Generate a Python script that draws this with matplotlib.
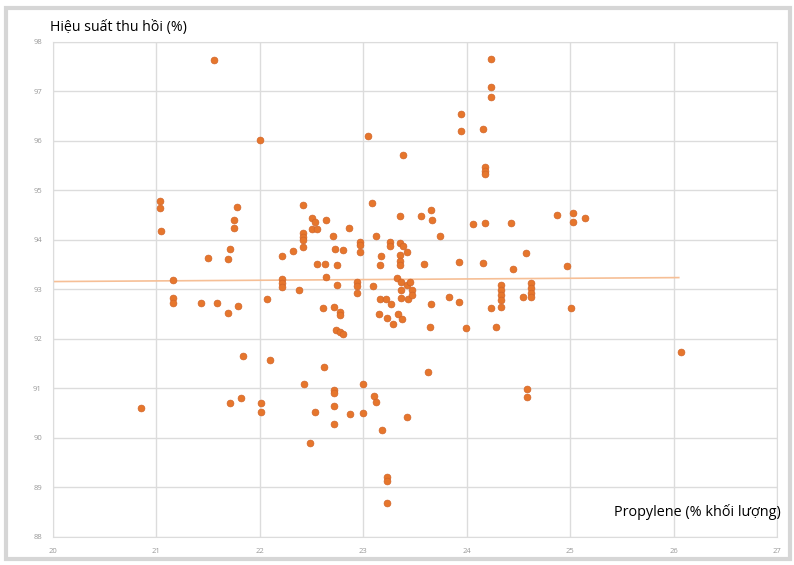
import matplotlib.pyplot as plt
from matplotlib.patches import Rectangle

# ---------------- data ----------------
propylene = [
    20.85, 21.56, 21.03, 21.03, 21.04, 21.16, 21.16, 21.16, 21.43, 21.59,
    21.69, 21.79, 21.50, 21.69, 21.71, 21.75, 21.75, 21.78, 21.84, 21.82,
    21.71, 22.00, 22.01, 22.01, 22.07, 22.10, 22.21, 22.21, 22.21, 22.21,
    22.32, 22.38, 22.42, 22.42, 22.42, 22.42, 22.42, 22.50, 22.53, 22.64,
    22.50, 22.55, 22.86, 22.71, 22.73, 22.80, 22.55, 22.63, 22.75, 22.64,
    22.75, 22.94, 22.94, 22.94, 22.97, 22.97, 22.97, 23.08, 23.05, 23.12,
    23.09, 23.17, 23.16, 23.26, 23.26, 23.35, 23.35, 23.38, 23.42, 23.35,
    23.35, 23.35, 23.33, 23.36, 23.42, 23.16, 23.22, 23.27, 23.36, 23.43,
    22.61, 22.72, 22.77, 22.77, 22.74, 22.77, 22.80, 23.15, 23.23, 23.29,
    23.34, 23.37, 22.43, 22.53, 22.48, 22.62, 22.72, 22.72, 22.72, 22.72,
    22.87, 23.00, 23.00, 23.10, 23.12, 23.18, 23.23, 23.23, 23.23, 23.38,
    23.56, 23.65, 23.66, 23.74, 24.06, 24.18, 24.43, 24.87, 25.03, 25.03,
    25.14, 23.36, 23.45, 23.47, 23.47, 23.59, 23.93, 24.16, 24.57, 24.45,
    24.97, 23.65, 23.83, 23.93, 24.33, 24.33, 24.33, 24.33, 24.33, 24.23,
    24.54, 24.62, 24.62, 24.62, 24.62, 25.01, 23.64, 23.99, 24.28, 26.07,
    23.63, 24.58, 24.58, 23.42, 24.23, 24.23, 24.23, 23.94, 23.94, 24.16,
    24.18, 24.18, 24.18,
]
recovery = [
    90.61, 97.64, 94.79, 94.65, 94.18, 93.19, 92.83, 92.73, 92.73, 92.73,
    92.53, 92.67, 93.64, 93.62, 93.82, 94.40, 94.24, 94.67, 91.66, 90.81,
    90.71, 96.02, 90.71, 90.53, 92.81, 91.58, 93.68, 93.21, 93.13, 93.05,
    93.78, 92.99, 94.71, 94.14, 94.06, 94.00, 93.86, 94.44, 94.36, 94.40,
    94.22, 94.22, 94.24, 94.08, 93.82, 93.80, 93.52, 93.52, 93.50, 93.25,
    93.09, 93.15, 93.07, 92.93, 93.96, 93.90, 93.76, 94.75, 96.10, 94.08,
    93.07, 93.68, 93.50, 93.96, 93.88, 94.49, 93.94, 93.88, 93.76, 93.70,
    93.58, 93.50, 93.23, 93.15, 93.09, 92.81, 92.81, 92.71, 92.83, 92.81,
    92.63, 92.65, 92.55, 92.48, 92.18, 92.14, 92.10, 92.51, 92.42, 92.30,
    92.51, 92.40, 91.09, 90.53, 89.90, 91.43, 90.97, 90.91, 90.65, 90.28,
    90.48, 91.09, 90.51, 90.85, 90.73, 90.16, 89.21, 89.13, 88.69, 95.72,
    94.49, 94.61, 94.40, 94.08, 94.32, 94.34, 94.34, 94.51, 94.55, 94.36,
    94.44, 92.99, 93.15, 92.99, 92.89, 93.52, 93.56, 93.54, 93.74, 93.41,
    93.47, 92.71, 92.85, 92.75, 93.09, 92.99, 92.89, 92.79, 92.65, 92.63,
    92.85, 93.13, 93.03, 92.93, 92.85, 92.63, 92.24, 92.22, 92.24, 91.74,
    91.33, 90.99, 90.83, 90.42, 97.66, 97.09, 96.89, 96.55, 96.20, 96.24,
    95.47, 95.39, 95.33,
]
trend_x = [20.0, 26.05]
trend_y = [93.16, 93.24]
x_ticks = [20, 21, 22, 23, 24, 25, 26, 27]
y_ticks = [88, 89, 90, 91, 92, 93, 94, 95, 96, 97, 98]
# ----------------------------------------------------------

plt.rcParams['font.family'] = ['Open Sans', 'DejaVu Sans']

fig = plt.figure(figsize=(7.94, 5.65), dpi=100)
# light grey frame around the whole picture
fig.patches.append(Rectangle((0.007, 0.010), 0.988, 0.976, transform=fig.transFigure,
                             fill=False, edgecolor='#d6d6d6', linewidth=3))

ax = fig.add_axes([0.0668, 0.0496, 0.9118, 0.8761])
ax.set_xlim(20, 27)
ax.set_ylim(88, 98)
ax.set_xticks(x_ticks)
ax.set_yticks(y_ticks)
ax.grid(True, color='#dcdcdc', linewidth=1)
ax.set_axisbelow(True)
for sp in ax.spines.values():
    sp.set_color('#dcdcdc')
ax.tick_params(length=0, labelsize=5.5, labelcolor='#999999', pad=8)

ax.plot(trend_x, trend_y, color='#f6bf96', linewidth=1.2, zorder=2)
ax.scatter(propylene, recovery, s=24, color='#e6762c', edgecolors='#d2652a',
           linewidths=0.5, zorder=3)

fig.text(0.063, 0.952, 'Hiệu suất thu hồi (%)', fontsize=10.2, va='center', ha='left')
ax.text(1.005, 0.05, 'Propylene (% khối lượng)', transform=ax.transAxes,
        fontsize=10.4, va='center', ha='right')

fig.savefig('out.png', dpi=100)
